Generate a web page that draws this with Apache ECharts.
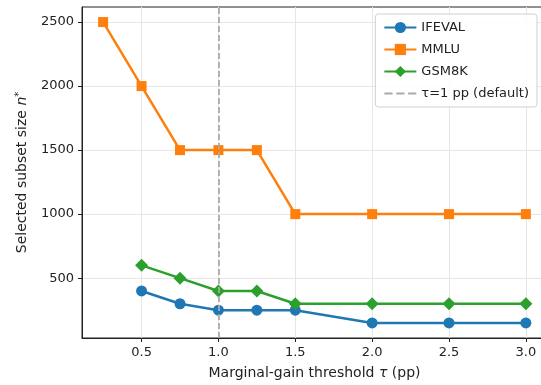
<!DOCTYPE html>
<html>
<head>
<meta charset="utf-8">
<script src="https://cdn.jsdelivr.net/npm/echarts@6/dist/echarts.min.js"></script>
<style>
  html, body { margin: 0; padding: 0; background: #fff; overflow: hidden; }
  #chart { width: 541px; height: 385px; }
</style>
</head>
<body>
<div id="chart"></div>
<script>
// thresholds (tau, pp)
const tauMMLU = [0.25, 0.5, 0.75, 1.0, 1.25, 1.5, 2.0, 2.5, 3.0]
const tauOther = [0.5, 0.75, 1.0, 1.25, 1.5, 2.0, 2.5, 3.0]

const ifeval = [400, 300, 250, 250, 250, 150, 150, 150]
const mmlu = [2500, 2000, 1500, 1500, 1500, 1000, 1000, 1000, 1000]
const gsm8k = [600, 500, 400, 400, 300, 300, 300, 300]

const xTicks = [0.5, 1.0, 1.5, 2.0, 2.5, 3.0]
const yTicks = [500, 1000, 1500, 2000, 2500]
const defaultTau = 1.0

const font = 'DejaVu Sans'
const dashIcon = 'path://M0,0h9v2H0z M13,0h9v2h-9z M26,0h9v2h-9z'

const pairs = (xs, ys) => xs.map((x, i) => [x, ys[i]])

const chart = echarts.init(document.getElementById('chart'))

const lineSeries = (name, xs, ys, color, symbol, size) => ({
  name,
  type: 'line',
  data: pairs(xs, ys),
  color,
  symbol,
  symbolSize: size,
  lineStyle: { width: 2.5, color },
  itemStyle: { color },
  z: 3,
})

chart.setOption({
  animation: false,
  textStyle: { fontFamily: font },
  grid: {
    left: 82, top: 7, width: 465, height: 331,
    containLabel: false,
    outerBoundsMode: 'none',
    show: true, borderColor: '#222', borderWidth: 1, backgroundColor: 'transparent',
  },
  xAxis: {
    type: 'value',
    min: 0.1125,
    max: 3.1375,
    name: '{n|Marginal-gain threshold }{i|τ}{n| (pp)}',
    nameLocation: 'middle',
    nameGap: 28,
    nameTextStyle: {
      rich: {
        n: { fontSize: 14, color: '#222', fontFamily: font },
        i: { fontSize: 14, color: '#222', fontFamily: font, fontStyle: 'italic' },
      },
    },
    axisLine: { onZero: false, lineStyle: { color: '#222', width: 1 } },
    axisTick: { show: true, customValues: xTicks, length: 4, lineStyle: { color: '#222' } },
    axisLabel: {
      customValues: xTicks,
      formatter: (v) => v.toFixed(1),
      fontSize: 13,
      color: '#222',
      margin: 8,
    },
    splitLine: { show: true, lineStyle: { color: '#e6e6e6', width: 1 } },
  },
  yAxis: {
    type: 'value',
    min: 32.5,
    max: 2617.5,
    name: '{n|Selected subset size }{i|n}{s|*}',
    nameLocation: 'middle',
    nameGap: 52,
    nameRotate: 90,
    nameTextStyle: {
      rich: {
        n: { fontSize: 14, color: '#222', fontFamily: font },
        i: { fontSize: 14, color: '#222', fontFamily: font, fontStyle: 'italic' },
        s: { fontSize: 10, color: '#222', fontFamily: font, verticalAlign: 'top', padding: [0, 0, 6, 0] },
      },
    },
    axisLine: { show: true, onZero: false, lineStyle: { color: '#222', width: 1 } },
    axisTick: { show: true, customValues: yTicks, length: 4, lineStyle: { color: '#222' } },
    axisLabel: {
      customValues: yTicks,
      formatter: (v) => String(v),
      fontSize: 13,
      color: '#222',
      margin: 8,
    },
    splitLine: { show: true, lineStyle: { color: '#e6e6e6', width: 1 } },
  },
  legend: {
    right: 4,
    top: 14,
    orient: 'vertical',
    itemGap: 9,
    itemWidth: 32,
    itemHeight: 14,
    padding: [7, 8, 7, 8],
    backgroundColor: 'rgba(255,255,255,0.85)',
    borderColor: '#d0d0d0',
    borderWidth: 1,
    borderRadius: 3,
    textStyle: { fontSize: 13, color: '#222', fontFamily: font },
    data: [
      'IFEVAL',
      'MMLU',
      'GSM8K',
      { name: 'τ=1 pp (default)', icon: dashIcon, itemStyle: { color: '#aaaaaa' } },
    ],
  },
  series: [
    lineSeries('IFEVAL', tauOther, ifeval, '#1f77b4', 'circle', 11),
    lineSeries('MMLU', tauMMLU, mmlu, '#ff7f0e', 'rect', 10),
    lineSeries('GSM8K', tauOther, gsm8k, '#2ca02c', 'diamond', 13),
    {
      name: 'τ=1 pp (default)',
      type: 'line',
      data: [],
      symbol: 'none',
      color: '#aaaaaa',
      lineStyle: { color: '#aaaaaa', type: [5, 3], width: 1.8 },
      z: 1,
      markLine: {
        silent: true,
        symbol: 'none',
        label: { show: false },
        lineStyle: { color: '#aaaaaa', type: [6, 3], width: 1.8 },
        data: [{ xAxis: defaultTau }],
      },
    },
  ],
})
</script>
</body>
</html>
